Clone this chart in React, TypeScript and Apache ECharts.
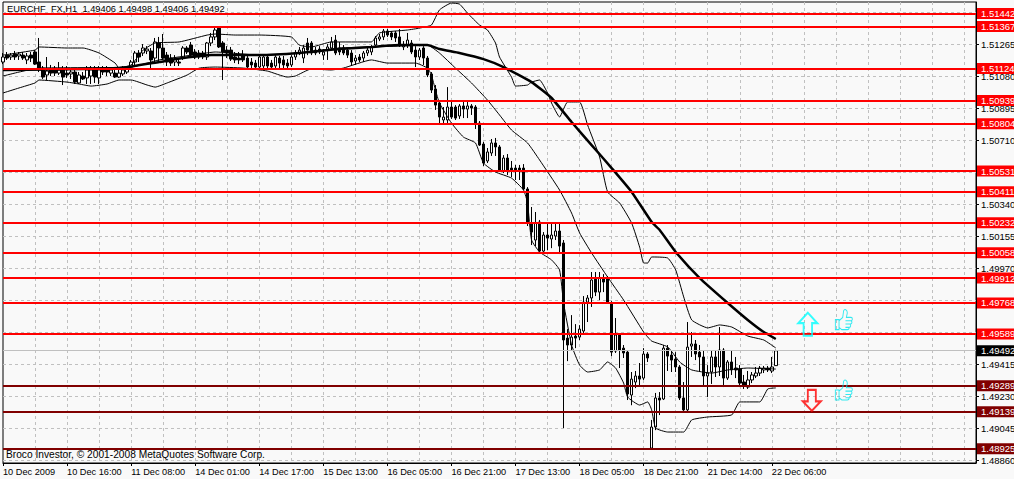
import React, { useEffect, useRef } from "react";
import * as echarts from "echarts";

const headerText = "EURCHF_FX,H1  1.49406 1.49498 1.49406 1.49492";
const footerText = "Broco Investor, © 2001-2008 MetaQuotes Software Corp.";
const barCount = 244;
const xTickLabels = ["10 Dec 2009","10 Dec 16:00","11 Dec 08:00","14 Dec 01:00","14 Dec 17:00","15 Dec 13:00","16 Dec 05:00","16 Dec 21:00","17 Dec 13:00","18 Dec 05:00","18 Dec 21:00","21 Dec 14:00","22 Dec 06:00"];
const yTicks = [1.4886,1.49045,1.4923,1.49415,1.496,1.49785,1.4997,1.50155,1.5034,1.50525,1.5071,1.50895,1.5108,1.51265,1.5145];
const redLevels = [1.51442,1.51367,1.51124,1.50939,1.50804,1.50531,1.50411,1.50232,1.50058,1.49912,1.49768,1.49589];
const darkLevels = [1.49289,1.49139,1.48925];
const lastPrice = 1.49492;

// open, close, low, high, in points (1e-5)
const candles = [
[151161,151190,151149,151213],[151201,151184,151173,151219],[151190,151201,151173,151213],[151207,151190,151173,151225],
[151196,151207,151173,151219],[151201,151184,151173,151219],[151173,151196,151149,151213],[151201,151184,151161,151219],
[151219,151149,151144,151230],[151161,151126,151103,151300],[151126,151074,151063,151138],[151086,151109,151057,151190],
[151115,151097,151080,151144],[151115,151097,151080,151138],[151097,151115,151086,151161],[151115,151074,151028,151138],
[151097,151086,151069,151138],[151092,151103,151063,151126],[151103,151045,151034,151126],[151040,151086,151034,151103],
[151080,151063,151057,151103],[151069,151115,151034,151138],[151080,151115,151034,151138],[151115,151074,151040,151138],
[151069,151115,151034,151138],[151121,151103,151086,151138],[151121,151103,151080,151138],[151097,151115,151080,151126],
[151097,151074,151069,151126],[151074,151097,151069,151121],[151092,151115,151080,151138],[151103,151126,151092,151138],
[151132,151161,151115,151173],[151161,151213,151132,151225],[151213,151190,151161,151230],[151213,151242,151196,151265],
[151225,151236,151207,151253],[151225,151173,151126,151242],[151184,151277,151161,151300],[151271,151242,151161,151306],
[151242,151184,151173,151323],[151201,151161,151138,151219],[151184,151155,151138,151207],[151161,151178,151138,151201],
[151161,151155,151138,151184],[151184,151242,151173,151253],[151242,151219,151207,151253],[151259,151201,151184,151277],
[151219,151190,151178,151236],[151213,151190,151178,151230],[151213,151190,151178,151225],[151190,151271,151173,151277],
[151271,151306,151253,151329],[151306,151346,151288,151363],[151357,151248,151242,151363],[151271,151219,151057,151282],
[151230,151213,151184,151253],[151230,151178,151167,151248],[151190,151173,151155,151219],[151184,151173,151149,151219],
[151196,151173,151161,151230],[151184,151132,151121,151196],[151161,151144,151126,151184],[151155,151132,151115,151173],
[151132,151190,151121,151196],[151138,151190,151126,151201],[151190,151138,151126,151201],[151155,151132,151126,151173],
[151138,151190,151126,151201],[151184,151155,151115,151196],[151173,151144,151115,151196],[151155,151138,151126,151178],
[151144,151190,151132,151201],[151190,151213,151173,151230],[151213,151230,151201,151248],[151184,151242,151155,151259],
[151271,151230,151201,151300],[151271,151213,151201,151282],[151230,151213,151201,151248],[151236,151219,151207,151253],
[151201,151219,151173,151236],[151230,151248,151173,151265],[151242,151277,151230,151306],[151288,151213,151201,151317],
[151242,151219,151201,151277],[151242,151213,151201,151259],[151230,151201,151184,151242],[151213,151161,151138,151230],
[151167,151184,151144,151201],[151190,151173,151161,151207],[151184,151213,151161,151225],[151213,151230,151196,151242],
[151219,151248,151201,151259],[151259,151300,151242,151311],[151294,151306,151282,151323],[151306,151340,151288,151352],
[151340,151317,151306,151352],[151329,151306,151288,151340],[151329,151300,151277,151340],[151306,151259,151248,151352],
[151248,151259,151230,151282],[151259,151288,151242,151329],[151271,151219,151207,151288],[151230,151190,151132,151253],
[151190,151230,151173,151242],[151242,151184,151144,151253],[151184,151086,151074,151196],[151092,150999,150982,151103],
[151005,150912,150884,151028],[150924,150843,150808,150941],[150826,150843,150808,150901],[150826,150901,150808,151016],
[150901,150843,150832,150930],[150901,150837,150826,150912],[150849,150907,150832,150918],[150907,150889,150837,150930],
[150889,150907,150837,150930],[150907,150895,150855,150918],[150901,150808,150774,150912],[150808,150681,150676,150820],
[150687,150577,150560,150699],[150589,150641,150577,150664],[150635,150693,150618,150716],[150693,150670,150618,150722],
[150670,150531,150525,150681],[150531,150606,150519,150623],[150606,150531,150508,150629],[150548,150537,150496,150589],
[150548,150537,150479,150566],[150548,150537,150479,150566],[150548,150427,150421,150571],[150427,150230,150213,150438],
[150230,150178,150103,150323],[150132,150230,150097,150294],[150236,150068,150056,150248],[150068,150161,150056,150178],
[150161,150143,150074,150236],[150138,150161,150085,150236],[150155,150184,150132,150230],[150184,150097,150051,150236],
[150115,149554,149045,150132],[149565,149525,149432,149617],[149525,149571,149496,149698],[149577,149565,149507,149646],
[149571,149617,149554,149640],[149606,149773,149588,149808],[149773,149797,149658,149814],[149797,149901,149745,149947],
[149906,149831,149808,149947],[149831,149912,149785,149947],[149912,149889,149831,149935],[149912,149773,149768,149924],
[149768,149484,149461,149779],[149490,149583,149479,149681],[149583,149496,149392,149594],[149507,149479,149450,149525],
[149484,149242,149207,149496],[149236,149328,149177,149369],[149311,149346,149276,149375],[149346,149328,149288,149421],
[149334,149473,149323,149507],[149473,149450,149427,149484],[148929,149051,148925,149092],[149051,149219,149033,149248],
[149219,149207,149120,149253],[149213,149507,149207,149525],[149507,149461,149375,149525],[149467,149438,149369,149496],
[149444,149398,149369,149484],[149398,149219,149207,149409],[149219,149150,149144,149311],[149150,149513,149138,149658],
[149519,149531,149456,149600],[149531,149473,149438,149554],[149484,149456,149369,149525],[149456,149346,149288,149496],
[149346,149363,149224,149409],[149369,149456,149300,149496],[149456,149398,149340,149496],[149398,149496,149346,149629],
[149496,149334,149282,149507],[149334,149427,149323,149438],[149427,149381,149352,149496],[149392,149381,149334,149456],
[149386,149305,149282,149409],[149311,149288,149271,149352],[149282,149323,149271,149375],[149323,149352,149305,149369],
[149346,149363,149334,149398],[149363,149392,149346,149404],[149381,149392,149363,149404],[149392,149381,149369,149404],
[149375,149398,149363,149456],[149406,149492,149406,149498],
];

// [bar index, price in points]
const upperBand = [[0,151201],[8,151230],[9,151248],[16,151242],[20,151242],[24,151213],[28,151155],[29,151126],[32,151144],[35,151230],[38,151271],[44,151277],[51,151317],[53,151323],[58,151317],[64,151317],[72,151306],[74,151259],[77,151248],[82,151277],[92,151277],[94,151329],[101,151346],[104,151357],[107,151375],[109,151462],[112,151502],[114,151496],[116,151444],[119,151375],[121,151346],[123,151271],[124,151190],[127,151074],[128,151022],[131,151028],[132,151045],[134,151057],[136,150982],[137,150924],[139,150843],[141,150930],[144,150930],[146,150797],[149,150612],[151,150410],[154,150346],[157,150230],[159,150091],[160,149999],[161,149999],[162,150034],[166,150028],[168,149959],[170,149803],[172,149670],[176,149624],[179,149641],[182,149629],[186,149577],[190,149554],[193,149508]];
const middleBand = [[0,151080],[4,151103],[9,151126],[32,151132],[39,151173],[49,151207],[53,151219],[64,151201],[74,151213],[84,151242],[92,151248],[99,151253],[106,151259],[109,151213],[113,151126],[117,151040],[121,150941],[124,150855],[127,150768],[131,150693],[134,150595],[139,150421],[142,150288],[144,150173],[147,150057],[151,149918],[155,149785],[160,149600],[162,149548],[166,149514],[169,149427],[172,149381],[177,149363],[181,149381],[186,149392],[193,149386]];
const lowerBand = [[0,150982],[4,151011],[8,151040],[9,151057],[16,151045],[19,151034],[22,151022],[26,151034],[29,151057],[32,151057],[36,151028],[38,151016],[41,151040],[46,151086],[49,151126],[53,151132],[60,151126],[66,151109],[71,151074],[73,151080],[77,151121],[82,151115],[85,151126],[92,151173],[96,151155],[103,151155],[106,151126],[107,151086],[108,150999],[109,150924],[112,150808],[115,150727],[118,150693],[120,150577],[123,150525],[127,150490],[130,150421],[131,150346],[132,150132],[134,150063],[137,150017],[139,149959],[140,149768],[142,149525],[144,149409],[146,149369],[149,149381],[151,149427],[153,149392],[155,149305],[156,149224],[159,149178],[161,149196],[162,149150],[163,149045],[166,149022],[170,149022],[172,149092],[176,149109],[182,149121],[184,149196],[189,149196],[191,149271],[193,149277]];
const movingAverage = [[0,151115],[29,151126],[39,151161],[45,151184],[52,151201],[64,151201],[74,151213],[84,151236],[92,151248],[99,151259],[106,151259],[109,151236],[114,151213],[120,151178],[125,151132],[132,151045],[137,150953],[142,150814],[147,150681],[152,150548],[157,150410],[162,150236],[164,150190],[168,150063],[174,149912],[181,149768],[186,149670],[190,149600],[193,149560]];

const upArrowAt = [[201, 1.49645]];
const downArrowAt = [[202, 1.49205]];
const thumbsAt = [[210, 1.49672], [210, 1.49265]];

const scale = (rows: number[][]) => rows.map(([i, v]) => [i, v / 100000]);
const ohlc = candles.map((r) => r.map((v) => v / 100000));
const categories = Array.from({ length: barCount }, (_, i) =>
  i % 16 === 0 && xTickLabels[i / 16] ? xTickLabels[i / 16] : "#" + i
);
const isLabelled = (i: number) => i % 16 === 0 && i / 16 < xTickLabels.length;

const UP = "path://M10 1 L19 11 L14 11 L14 23 L6 23 L6 11 L1 11 Z";
const DOWN = "path://M6 1 L14 1 L14 13 L19 13 L10 23 L1 13 L6 13 Z";
const THUMB = "path://M1 10 L5 10 L5 19 L1 19 Z M5 11 L9 8 L10 2 C11 0 14 1 14 4 L13 8 L18 8 C20 8 20 11 18 11 C20 12 19 14 17 14 C18 15 18 17 16 17 C16 19 15 19 14 19 L8 19 L5 17 M12 11 L18 11 M12 14 L17 14 M12 17 L16 17";

const bandLine = (name: string, rows: number[][]) => ({
  name, type: "line", data: scale(rows), showSymbol: false, smooth: 0.15, z: 3, silent: true,
  lineStyle: { color: "#000", width: 1 },
});

const levelLine = (v: number, color: string, bg: string, width = 2) => ({
  yAxis: v,
  lineStyle: { color, width, type: "solid" },
  label: {
    show: true, position: "end", distance: 1, formatter: v.toFixed(5), color: "#fff", backgroundColor: bg,
    fontFamily: "Liberation Sans", fontSize: 9.5, padding: [1, 4, 1, 4], width: 32, height: 9, lineHeight: 9, align: "left",
  },
});

export default function App() {
  const ref = useRef<HTMLDivElement>(null);
  useEffect(() => {
    document.body.style.margin = "0";
    const chart = echarts.init(ref.current!, null, { renderer: "svg" });
    chart.setOption({
      animation: false,
      backgroundColor: "#f9f9f9",
      textStyle: { fontFamily: "Liberation Sans" },
      grid: { left: 3, top: 2, width: 973, height: 461, show: true, borderColor: "#000", borderWidth: 1, backgroundColor: "#f9f9f9", outerBoundsMode: "none", containLabel: false },
      xAxis: {
        type: "category", data: categories, boundaryGap: false,
        axisLine: { lineStyle: { color: "#000", width: 1 } },
        axisTick: { length: 3, interval: (i: number) => isLabelled(i), lineStyle: { color: "#000" } },
        axisLabel: { interval: (i: number) => isLabelled(i), align: "left", margin: 4, color: "#000", fontSize: 9.2, fontFamily: "Liberation Sans", showMinLabel: true, hideOverlap: false },
        splitLine: { show: true, interval: (i: number) => i % 8 === 0 && i > 0, lineStyle: { color: "#c0c0c0", type: [3, 3], width: 1 } },
      },
      yAxis: {
        type: "value", position: "right", min: 1.48843, max: 1.51508, scale: true,
        axisLine: { show: true, lineStyle: { color: "#000", width: 1 } },
        axisTick: { show: true, length: 3, customValues: yTicks, lineStyle: { color: "#000" } },
        axisLabel: { customValues: yTicks, formatter: (v: number) => v.toFixed(5), margin: 5, color: "#000", fontSize: 9.5, fontFamily: "Liberation Sans", showMinLabel: true, showMaxLabel: true },
        splitLine: { show: true, lineStyle: { color: "#c0c0c0", type: [3, 3], width: 1 } },
      },
      graphic: [
        { type: "text", z: 1, x: 7, y: 4, style: { text: headerText, fill: "#000", font: "9.3px Liberation Sans" } },
        { type: "text", z: 1, x: 6, y: 449, style: { text: footerText, fill: "#000", font: "10.2px Liberation Sans" } },
      ],
      series: [
        {
          name: "EURCHF_FX,H1", type: "candlestick", data: ohlc, barWidth: 3, z: 2, silent: true,
          itemStyle: { color: "#fff", color0: "#000", borderColor: "#000", borderColor0: "#000", borderWidth: 1 },
        },
        bandLine("Upper band", upperBand),
        bandLine("Middle band", middleBand),
        bandLine("Lower band", lowerBand),
        {
          name: "Moving average", type: "line", data: scale(movingAverage), showSymbol: false, smooth: 0.15, z: 4, silent: true,
          lineStyle: { color: "#000", width: 2.5 },
        },
        {
          name: "Levels", type: "line", data: [], z: 5, silent: true,
          markLine: {
            silent: true, symbol: "none", precision: 5,
            data: [
              levelLine(lastPrice, "#c0c0c0", "#000", 1),
              ...redLevels.map((v) => levelLine(v, "#ff0000", "#ff0000")),
              ...darkLevels.map((v) => levelLine(v, "#800000", "#800000")),
            ],
          },
        },
        {
          name: "Buy", type: "scatter", data: upArrowAt, symbol: UP, symbolSize: [19, 23], z: 6, silent: true,
          itemStyle: { color: "rgba(255,255,255,0)", borderColor: "#00ffff", borderWidth: 2 },
        },
        {
          name: "Sell", type: "scatter", data: downArrowAt, symbol: DOWN, symbolSize: [18, 21], z: 6, silent: true,
          itemStyle: { color: "rgba(255,255,255,0)", borderColor: "#ff0000", borderWidth: 2 },
        },
        {
          name: "Hints", type: "scatter", data: thumbsAt, symbol: THUMB, symbolSize: [17, 20], z: 6, silent: true,
          itemStyle: { color: "rgba(255,255,255,0)", borderColor: "#00e5ee", borderWidth: 1 },
        },
      ],
    });
    return () => chart.dispose();
  }, []);
  return <div ref={ref} style={{ width: 1014, height: 479 }} />;
}
